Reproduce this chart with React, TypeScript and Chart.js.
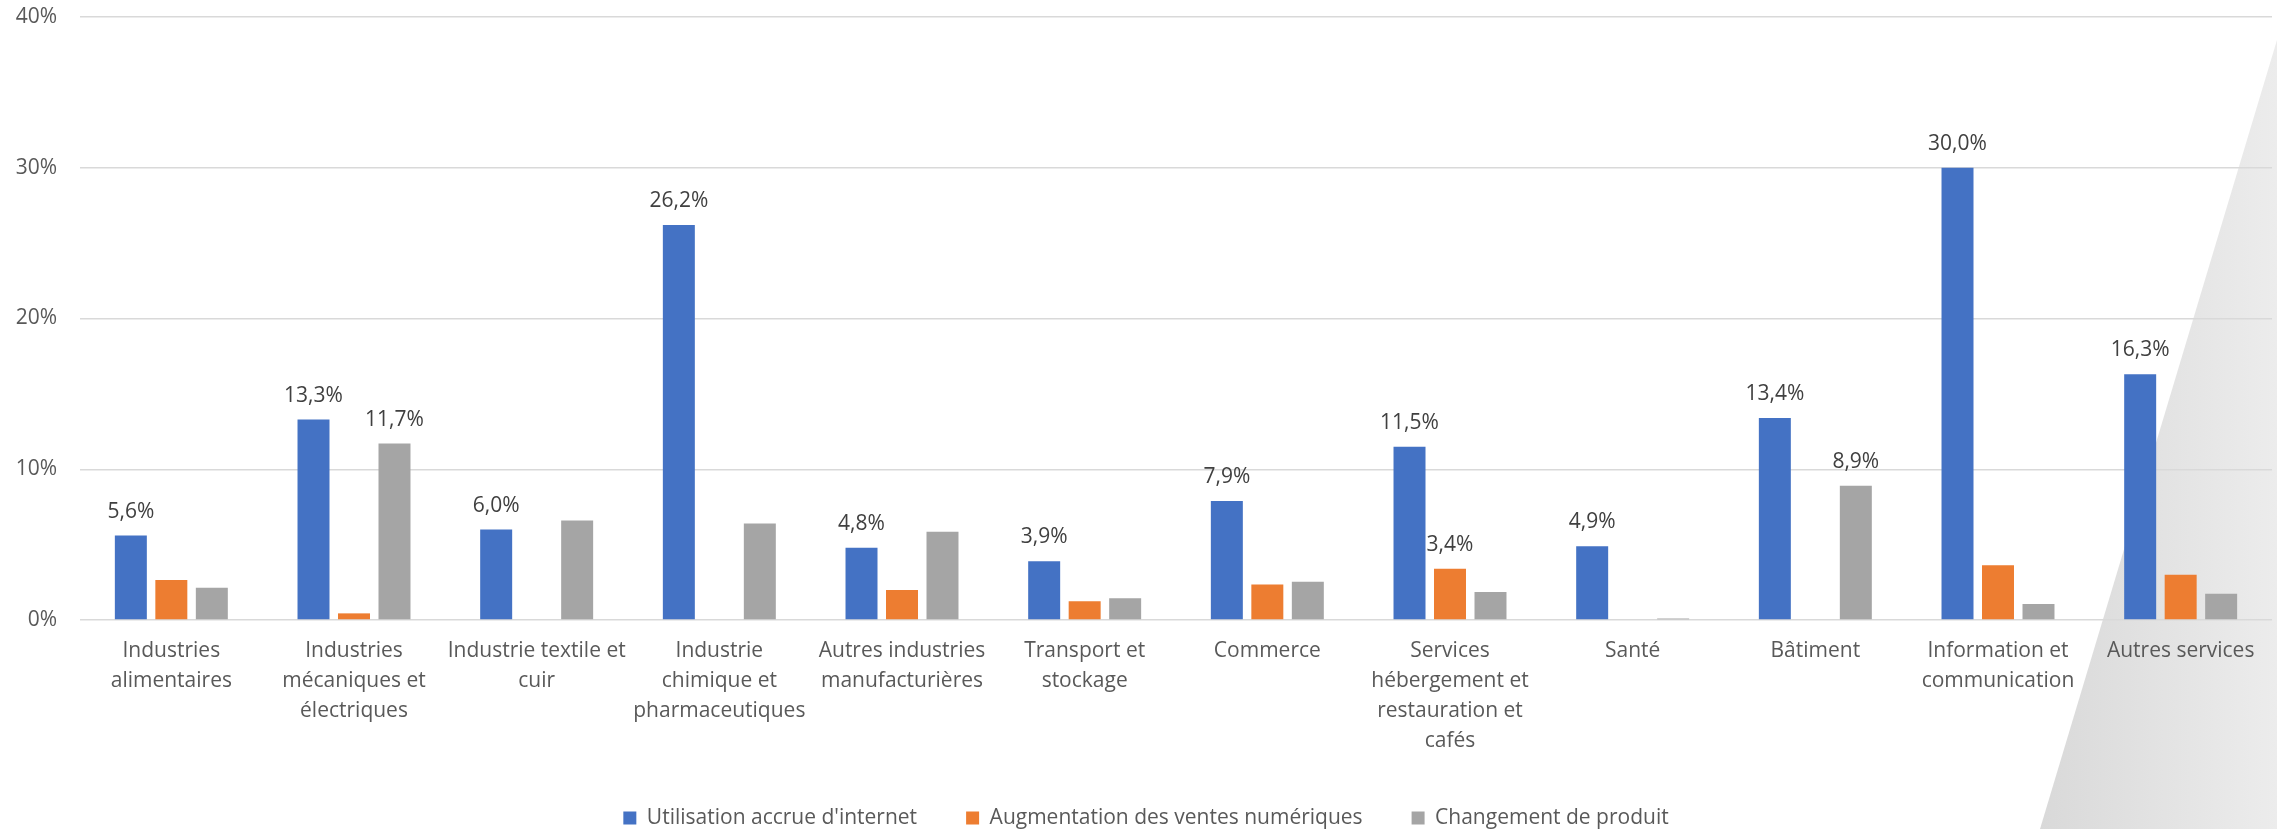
import React, { useEffect, useRef } from 'react';
import { Chart, registerables } from 'chart.js';

Chart.register(...registerables);

const categories: string[][] = [
  ['Industries', 'alimentaires'],
  ['Industries', 'mécaniques et', 'électriques'],
  ['Industrie textile et', 'cuir'],
  ['Industrie', 'chimique et', 'pharmaceutiques'],
  ['Autres industries', 'manufacturières'],
  ['Transport et', 'stockage'],
  ['Commerce'],
  ['Services', 'hébergement et', 'restauration et', 'cafés'],
  ['Santé'],
  ['Bâtiment'],
  ['Information et', 'communication'],
  ['Autres services'],
];

const seriesNames = [
  "Utilisation accrue d'internet",
  'Augmentation des ventes numériques',
  'Changement de produit',
];

const internetValues = [5.6, 13.3, 6.0, 26.2, 4.8, 3.9, 7.9, 11.5, 4.9, 13.4, 30.0, 16.3];
const ventesValues = [2.65, 0.44, 0, 0, 1.99, 1.24, 2.36, 3.4, 0, 0, 3.64, 3.0];
const produitValues = [2.14, 11.7, 6.6, 6.4, 5.85, 1.44, 2.54, 1.85, 0.1, 8.9, 1.06, 1.74];

// indices of bars that carry a value label
const internetLabeled = [0, 1, 2, 3, 4, 5, 6, 7, 8, 9, 10, 11];
const ventesLabeled = [7];
const produitLabeled = [1, 9];

const yMin = 0;
const yMax = 40;
const yStep = 10;

const seriesColors = ['#4472C4', '#ED7D31', '#A5A5A5'];

const FONT = "'Open Sans', 'Noto Sans', sans-serif";

const fmt = (v: number) => v.toFixed(1).replace('.', ',') + '%';

export default function App() {
  const canvasRef = useRef<HTMLCanvasElement | null>(null);

  useEffect(() => {
    document.body.style.margin = '0';
    const canvas = canvasRef.current;
    if (!canvas) return;

    const labeledSets = [internetLabeled, ventesLabeled, produitLabeled];

    const backgroundShape = {
      id: 'backgroundShape',
      beforeDraw(chart: any) {
        const { ctx, width, height } = chart;
        ctx.save();
        const x0 = width - 237;
        const g = ctx.createLinearGradient(x0, 0, width, 0);
        g.addColorStop(0, '#d9d9d9');
        g.addColorStop(1, '#ececec');
        ctx.fillStyle = g;
        ctx.beginPath();
        ctx.moveTo(width, 40);
        ctx.lineTo(width, height);
        ctx.lineTo(x0, height);
        ctx.closePath();
        ctx.fill();
        ctx.restore();
      },
    };

    const legendNudge = {
      id: 'legendNudge',
      afterLayout(chart: any) {
        const l = chart.legend;
        if (l) {
          l.left += 10;
          l.right += 10;
          l.top += 1;
          l.bottom += 1;
        }
      },
    };

    const valueLabels = {
      id: 'valueLabels',
      afterDatasetsDraw(chart: any) {
        const { ctx } = chart;
        ctx.save();
        ctx.font = `21px ${FONT}`;
        ctx.fillStyle = '#404040';
        ctx.textAlign = 'center';
        ctx.textBaseline = 'alphabetic';
        chart.data.datasets.forEach((ds: any, di: number) => {
          const meta = chart.getDatasetMeta(di);
          labeledSets[di].forEach((i) => {
            const el = meta.data[i];
            if (!el) return;
            ctx.fillText(fmt(ds.data[i]), el.x, el.y - 18);
          });
        });
        ctx.restore();
      },
    };

    const chart = new Chart(canvas, {
      type: 'bar',
      data: {
        labels: categories,
        datasets: [
          { label: seriesNames[0], data: internetValues, backgroundColor: seriesColors[0] },
          { label: seriesNames[1], data: ventesValues, backgroundColor: seriesColors[1] },
          { label: seriesNames[2], data: produitValues, backgroundColor: seriesColors[2] },
        ],
      },
      options: {
        responsive: false,
        animation: false,
        events: [],
        datasets: {
          bar: { categoryPercentage: 0.665, barPercentage: 0.79 },
        },
        layout: { padding: { top: 17, right: 5, left: 0, bottom: -8.5 } },
        scales: {
          x: {
            grid: { display: false, drawTicks: false },
            border: { display: false },
            ticks: {
              autoSkip: false,
              maxRotation: 0,
              minRotation: 0,
              padding: 16,
              color: '#595959',
              font: { family: FONT, size: 21, lineHeight: 30 / 21 },
            },
            afterFit(scale: any) {
              scale.height = 137.5;
            },
          },
          y: {
            min: yMin,
            max: yMax,
            grid: { color: '#d9d9d9', lineWidth: 1.5, drawTicks: false },
            border: { display: false },
            ticks: {
              stepSize: yStep,
              padding: 23,
              color: '#595959',
              font: { family: FONT, size: 21 },
              callback: (v: any) => v + '%',
            },
            afterFit(scale: any) {
              scale.width = 80;
              scale.paddingTop = 0;
              scale.paddingBottom = 0;
            },
          },
        },
        plugins: {
          tooltip: { enabled: false },
          legend: {
            position: 'bottom',
            labels: {
              boxWidth: 13,
              boxHeight: 13,
              padding: 49,
              color: '#595959',
              font: { family: FONT, size: 21 },
            },
          },
        },
      },
      plugins: [backgroundShape, legendNudge, valueLabels],
    });

    return () => {
      chart.destroy();
    };
  }, []);

  return (
    <div style={{ width: 2277, height: 829, position: 'relative' }}>
      <canvas ref={canvasRef} width={2277} height={829} style={{ display: 'block' }} />
    </div>
  );
}
